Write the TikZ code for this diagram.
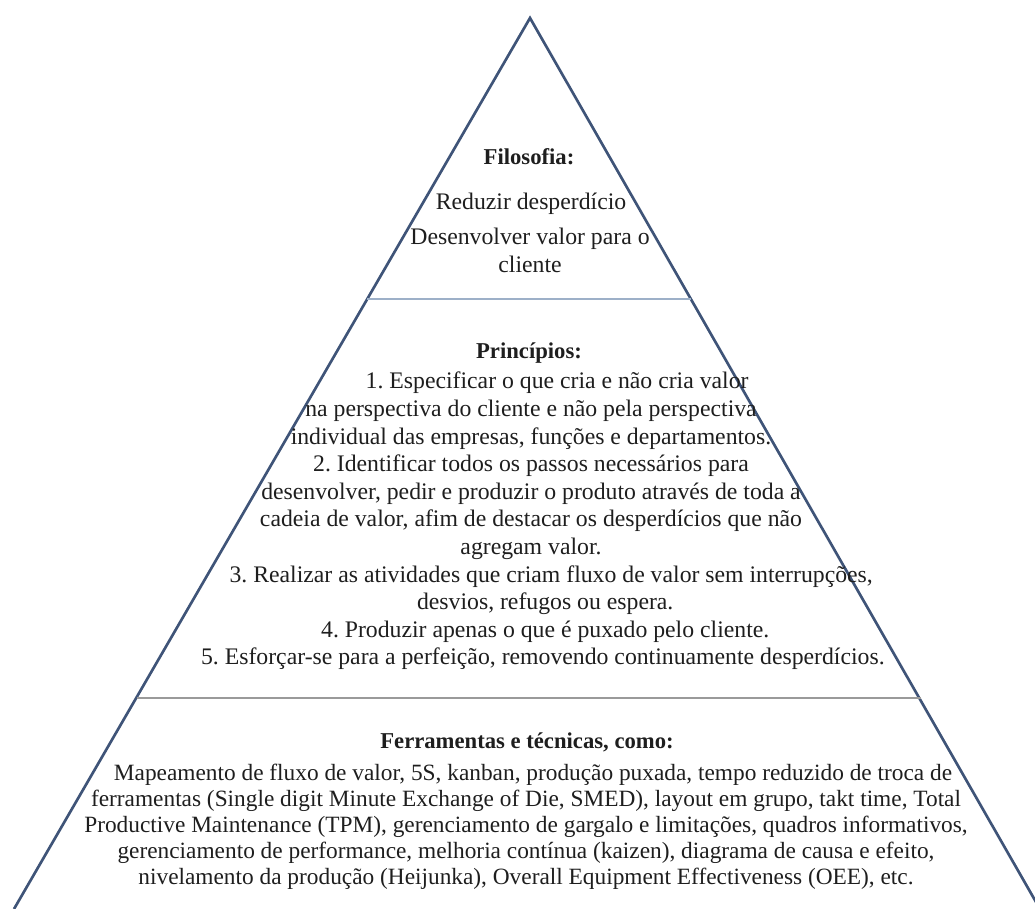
\documentclass[tikz,border=0pt]{standalone}
\usepackage{fontspec}
\setmainfont{Liberation Serif}
\frenchspacing
\definecolor{edgeblue}{HTML}{3F5478}
\definecolor{sepblue}{HTML}{9DB0C8}
\definecolor{sepgray}{HTML}{9A9A9A}
\definecolor{ink}{HTML}{1E1E1E}
\begin{document}
\begin{tikzpicture}[x=0.75pt,y=-0.75pt,
  edge/.style={draw=edgeblue, line width=2pt, line join=miter},
  divider/.style={line width=1.3pt},
  head/.style={inner sep=0pt, text=ink, font=\fontsize{17}{20}\selectfont\bfseries},
  body/.style={inner sep=0pt, text=ink, align=center, font=\fontsize{17.8}{20.7}\selectfont},
  bodytight/.style={inner sep=0pt, text=ink, align=center, font=\fontsize{17.5}{19.5}\selectfont}]
\useasboundingbox (0,0) rectangle (1035,909);

% pyramid outline
\coordinate (apex) at (530,18);
\coordinate (bl) at (14,909);
\coordinate (br) at (1040,909);
\draw[edge] (bl) -- (apex) -- (br);

% level separators
\coordinate (s1l) at (367,299);
\coordinate (s1r) at (691,299);
\coordinate (s2l) at (137,698);
\coordinate (s2r) at (921,698);
\draw[divider, sepblue] (s1l) -- (s1r);
\draw[divider, sepgray] (s2l) -- (s2r);

% top level
\node[head] (filh) at (529,157) {Filosofia:};
\node[body] (fil1) at (531,204) {Reduzir desperdício};
\node[body] (fil2) at (530,250.5) {Desenvolver valor para o\\cliente};

% middle level
\node[head] (prih) at (529,353) {Princípios:};
\node[body] (prib) at (531,521) {%
\hspace*{2.2em}1. Especificar o que cria e não cria valor\\
na perspectiva do cliente e não pela perspectiva\\
individual das empresas, funções e departamentos.\\
2. Identificar todos os passos necessários para\\
desenvolver, pedir e produzir o produto através de toda a\\
cadeia de valor, afim de destacar os desperdícios que não\\
agregam valor.\\
\hspace*{1.7em}3. Realizar as atividades que criam fluxo de valor sem interrupções,\\
\hspace*{1.2em}desvios, refugos ou espera.\\
\hspace*{1.2em}4. Produzir apenas o que é puxado pelo cliente.\\
\hspace*{1em}5. Esforçar-se para a perfeição, removendo continuamente desperdícios.};

% bottom level
\node[head] (ferh) at (527,742) {Ferramentas e técnicas, como:};
\node[bodytight] (ferb) at (526,827) {%
\hspace*{0.6em}Mapeamento de fluxo de valor, 5S, kanban, produção puxada, tempo reduzido de troca de\\
ferramentas (Single digit Minute Exchange of Die, SMED), layout em grupo, takt time, Total\\
Productive Maintenance (TPM), gerenciamento de gargalo e limitações, quadros informativos,\\
gerenciamento de performance, melhoria contínua (kaizen), diagrama de causa e efeito,\\
nivelamento da produção (Heijunka), Overall Equipment Effectiveness (OEE), etc.};
\end{tikzpicture}
\end{document}
